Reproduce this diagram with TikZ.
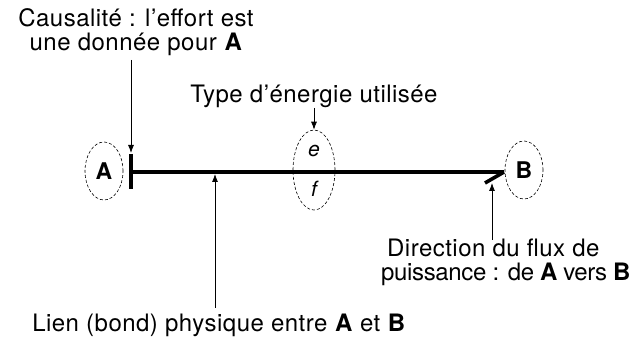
\documentclass[tikz,border=0pt]{standalone}
\usepackage{fontspec}
\setmainfont{TeX Gyre Heros}[LetterSpace=2]
\usetikzlibrary{shapes.geometric,arrows.meta}
\begin{document}
\begin{tikzpicture}[x=1pt,y=1pt,
  lbl/.style={font=\fontsize{24}{24.5}\selectfont, inner sep=0pt, align=center, anchor=base},
  oval/.style={ellipse, draw, densely dashed, line width=0.6pt, inner sep=0pt},
  bondline/.style={line width=3.4pt},
  pointer/.style={line width=0.8pt, -{Latex[length=8pt,width=6pt]}}]
\useasboundingbox (0,0) rectangle (632,340);
% nodes
\node[oval, minimum width=38, minimum height=58, font=\fontsize{23}{23}\selectfont\bfseries] (A) at (104,169) {A};
\node[oval, minimum width=38, minimum height=58, font=\fontsize{23}{23}\selectfont\bfseries] (B) at (524,170) {B};
\node[oval, minimum width=42, minimum height=80] (E) at (314,170) {};
\node[font=\fontsize{21}{22}\selectfont\itshape] (e) at (314,189) {e};
\node[font=\fontsize{21}{22}\selectfont\itshape] (f) at (314,151) {f};
% bond
\coordinate (bL) at (131,168);
\coordinate (bR) at (504,168);
\draw[bondline] (bL) -- (bR);
\draw[bondline] ([yshift=18]bL) -- ([yshift=-17]bL);
\draw[line width=3.6pt] (bR) -- ([shift={(-19,-11)}]bR);
% labels
\node[lbl] (causal) at (136,289) {Causalité : l’effort est\\une donnée pour \textbf{A}};
\node[lbl] (type) at (314,237) {Type d’énergie utilisée};
\node[lbl, align=left, anchor=base west] (dir) at (381,59) {\hspace*{6pt}Direction du flux de\\{\addfontfeature{LetterSpace=-1.5}puissance : de \textbf{A} vers \textbf{B}}};
\node[lbl] (lien) at (219,8) {Lien (bond) physique entre \textbf{A} et \textbf{B}};
% pointers
\coordinate (c1) at (131,280);
\coordinate (c2) at ([yshift=19]bL);
\draw[pointer] (c1) -- (c2);
\coordinate (t1) at (314,232);
\draw[pointer] (t1) -- (E.north);
\coordinate (d1) at (492,100);
\coordinate (d2) at (492,157);
\draw[pointer] (d1) -- (d2);
\coordinate (l1) at (215,32);
\coordinate (l2) at (215,166);
\draw[pointer] (l1) -- (l2);
\end{tikzpicture}
\end{document}
